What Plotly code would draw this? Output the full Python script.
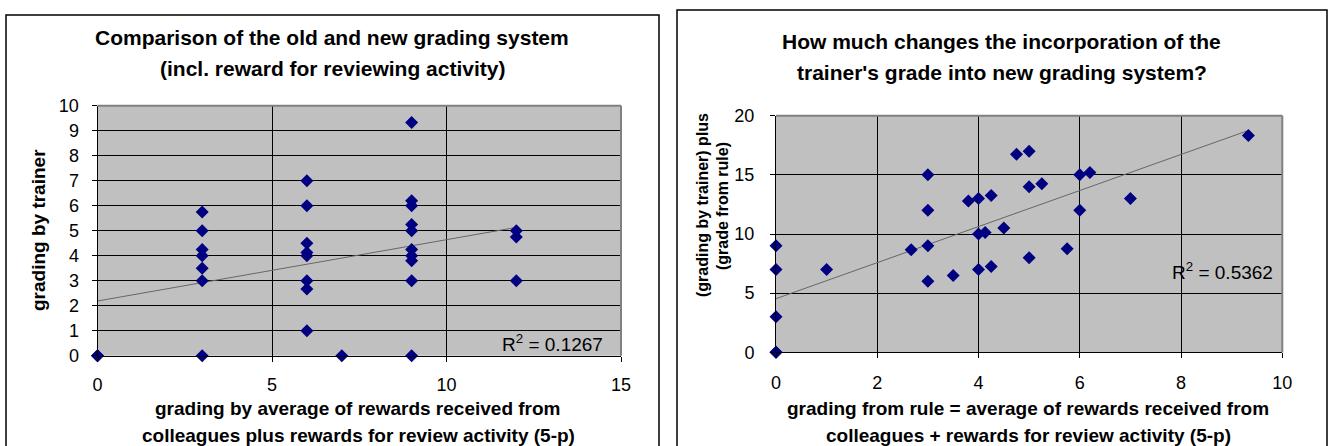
import numpy as np
import plotly.graph_objects as go

# ---- Left chart data ----
left_x = [0, 0, 3, 3, 3, 3, 3, 3, 3, 6, 6, 6, 6, 6, 6, 6, 6, 7,
          9, 9, 9, 9, 9, 9, 9, 9, 9, 9, 12, 12, 12]
left_y = [0, 0, 5.75, 5, 4.25, 4, 3.5, 3, 0, 7, 6, 4.5, 4.13, 4, 3, 2.67, 1, 0,
          9.33, 6.2, 6, 5.25, 5, 4.25, 4, 3.8, 3, 0, 5, 4.75, 3]
left_r2 = "R<sup>2</sup> = 0.1267"

# ---- Right chart data ----
right_x = [0, 0, 0, 0, 0, 1, 2.67, 3, 3, 3, 3, 3.5, 3.8, 4, 4, 4, 4.13, 4.25, 4.25,
           4.5, 4.75, 5, 5, 5, 5.25, 5.75, 6, 6, 6.2, 7, 9.33]
right_y = [0, 0, 3, 7, 9, 7, 8.67, 6, 9, 12, 15, 6.5, 12.8, 7, 10, 13, 10.13, 7.25, 13.25,
           10.5, 16.75, 8, 14, 17, 14.25, 8.75, 12, 15, 15.2, 13, 18.33]
right_r2 = "R<sup>2</sup> = 0.5362"

left_xticks = [0, 5, 10, 15]
left_yticks = list(range(0, 11))
right_xticks = [0, 2, 4, 6, 8, 10]
right_yticks = [0, 5, 10, 15, 20]

W, H = 1330, 446
FONT = "Liberation Sans, Arial, sans-serif"
NAVY = "#000080"
GRID = "#000000"
BG = "#C0C0C0"


def px(v):
    return v / W


def py(v):
    return 1 - v / H


fig = go.Figure()

# trendlines computed from the data
for xs, ys, xa, ya in [(left_x, left_y, "x", "y"), (right_x, right_y, "x2", "y2")]:
    m, b = np.polyfit(xs, ys, 1)
    xl = [min(xs), max(xs)]
    fig.add_trace(go.Scatter(x=xl, y=[m * v + b for v in xl], mode="lines",
                             line=dict(color="#666666", width=1), xaxis=xa, yaxis=ya,
                             showlegend=False, hoverinfo="skip"))
    fig.add_trace(go.Scatter(x=xs, y=ys, mode="markers", cliponaxis=False,
                             marker=dict(symbol="diamond", size=10, color=NAVY,
                                         line=dict(width=0)),
                             xaxis=xa, yaxis=ya, showlegend=False))

axis_common = dict(showline=True, linecolor="black", linewidth=1, ticks="outside",
                   ticklen=5, tickcolor="black", tickwidth=1, showgrid=True,
                   gridcolor=GRID, gridwidth=1, zeroline=False, automargin=False,
                   tickfont=dict(family=FONT, size=18, color="black"))

L = dict(x0=97.5, x1=621, y0=105.7, y1=355.7)
R = dict(x0=776, x1=1282.3, y0=115.7, y1=352.3)

fig.update_layout(
    width=W, height=H, margin=dict(l=0, r=0, t=0, b=0, autoexpand=False),
    paper_bgcolor="white", plot_bgcolor=BG, showlegend=False,
    xaxis=dict(axis_common, domain=[px(L["x0"]), px(L["x1"])], range=[0, 15],
               tickvals=left_xticks, anchor="y", ticklabelstandoff=8),
    yaxis=dict(axis_common, domain=[py(L["y1"]), py(L["y0"])], range=[0, 10],
               tickvals=left_yticks, anchor="x", ticklabelstandoff=9),
    xaxis2=dict(axis_common, domain=[px(R["x0"]), px(R["x1"])], range=[0, 10],
                tickvals=right_xticks, anchor="y2", ticklabelstandoff=9),
    yaxis2=dict(axis_common, domain=[py(R["y1"]), py(R["y0"])], range=[0, 20],
                tickvals=right_yticks, anchor="x2", ticklabelstandoff=12),
)

shapes = []
# chart frames
shapes.append(dict(type="rect", xref="paper", yref="paper", x0=px(6), x1=px(659),
                   y0=py(470), y1=py(15), line=dict(color="black", width=1.5), layer="below"))
shapes.append(dict(type="rect", xref="paper", yref="paper", x0=px(677), x1=px(1327),
                   y0=py(470), y1=py(10), line=dict(color="black", width=1.5), layer="below"))
# gray plot-area borders (top and right)
for P in (L, R):
    shapes.append(dict(type="line", xref="paper", yref="paper", x0=px(P["x0"]), x1=px(P["x1"]),
                       y0=py(P["y0"]), y1=py(P["y0"]), line=dict(color="#808080", width=2)))
    shapes.append(dict(type="line", xref="paper", yref="paper", x0=px(P["x1"]), x1=px(P["x1"]),
                       y0=py(P["y0"]), y1=py(P["y1"]), line=dict(color="#808080", width=2)))
fig.update_layout(shapes=shapes)

ann = []
tfont = dict(family=FONT, size=21, color="black")
afont = dict(family=FONT, size=19, color="black")


def add_text(x, y, text, font, angle=0, xanchor="center"):
    ann.append(dict(xref="paper", yref="paper", x=px(x), y=py(y), text=text, showarrow=False,
                    font=font, textangle=angle, xanchor=xanchor, yanchor="middle"))


add_text(332, 37, "<b>Comparison of the old and new grading system</b>", tfont)
add_text(332, 68, "<b>(incl. reward for reviewing activity)</b>", tfont)
add_text(1002, 41, "<b>How much changes the incorporation of the</b>", tfont)
add_text(1002, 72, "<b>trainer's grade into new grading system?</b>", tfont)

add_text(38, 230, "<b>grading by trainer</b>", dict(family=FONT, size=19, color="black"), angle=-90)
yf2 = dict(family=FONT, size=16, color="black")
add_text(702, 205, "<b>(grading by trainer) plus</b>", yf2, angle=-90)
add_text(722, 206, "<b>(grade from rule)</b>", yf2, angle=-90)

add_text(358, 408, "<b>grading by average of rewards received from</b>", afont)
add_text(358, 435, "<b>colleagues plus rewards for review activity (5-p)</b>", afont)
add_text(1028, 408, "<b>grading from rule = average of rewards received from</b>", afont)
add_text(1028, 435, "<b>colleagues + rewards for review activity (5-p)</b>", afont)

rfont = dict(family=FONT, size=19, color="black")
add_text(605, 343, left_r2, rfont, xanchor="right")
add_text(1275, 271, right_r2, rfont, xanchor="right")

fig.update_layout(annotations=ann)
fig.write_html("out.html", config={"displayModeBar": False},
               post_script="document.body.style.margin='0px';document.body.style.overflow='hidden';")
